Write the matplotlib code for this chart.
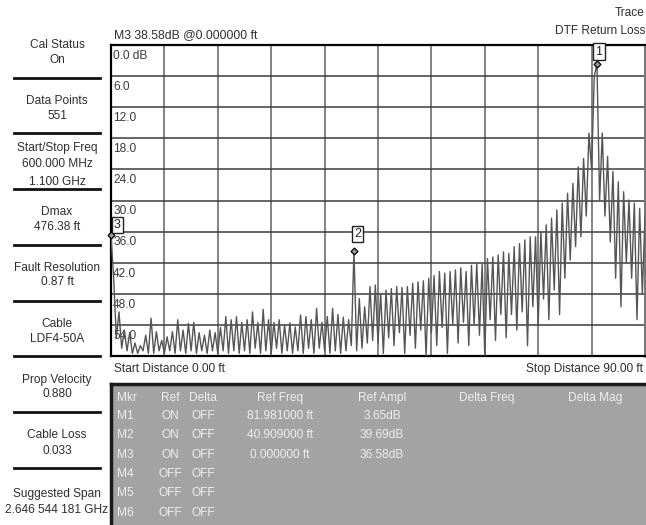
import matplotlib.pyplot as plt
from matplotlib.patches import Rectangle
from matplotlib.lines import Line2D
import numpy as np

plt.rcParams['font.family'] = ['Liberation Sans', 'DejaVu Sans']

# DTF return loss trace (dB), one value every 0.45 ft from 0 to 90 ft
return_loss = [
    36.6, 45.0, 56.5, 51.5, 58.5, 55.0, 59.0, 55.5, 59.5, 57.5,
    59.5, 58.0, 59.0, 56.0, 59.5, 52.7, 59.5, 55.3, 59.0, 57.0,
    59.5, 56.3, 59.0, 55.3, 59.5, 53.0, 59.0, 55.0, 59.5, 53.7,
    59.0, 53.5, 59.5, 55.5, 59.0, 56.0, 59.5, 55.0, 59.0, 55.5,
    59.5, 54.5, 59.0, 52.4, 59.5, 53.0, 59.0, 52.4, 59.5, 53.5,
    59.0, 53.0, 59.5, 51.5, 58.5, 53.5, 59.5, 51.0, 59.0, 53.0,
    59.5, 53.5, 58.5, 53.0, 59.5, 54.0, 59.0, 53.6, 59.5, 54.4,
    59.0, 52.1, 59.5, 52.4, 58.5, 53.0, 59.5, 50.8, 58.5, 53.5,
    59.0, 52.4, 59.5, 50.8, 59.0, 52.0, 59.5, 52.5, 59.0, 53.0,
    58.0, 39.7, 59.0, 48.9, 58.5, 50.5, 57.5, 46.6, 57.0, 46.3,
    57.5, 47.9, 59.5, 47.3, 56.5, 47.0, 58.0, 46.6, 55.5, 46.8,
    59.5, 46.6, 56.0, 46.0, 58.5, 45.7, 55.0, 45.5, 60.0, 45.0,
    55.5, 44.5, 58.0, 43.7, 54.5, 44.0, 59.5, 43.7, 54.0, 43.4,
    57.5, 43.0, 53.5, 43.7, 58.0, 42.5, 54.0, 42.1, 56.0, 42.3,
    60.0, 41.2, 53.0, 40.9, 57.0, 40.5, 52.0, 39.9, 56.5, 40.2,
    52.0, 38.9, 55.0, 38.3, 51.5, 37.6, 58.0, 37.0, 50.5, 37.0,
    54.0, 36.0, 49.0, 34.7, 53.0, 33.4, 47.3, 31.8, 52.0, 30.5,
    45.0, 28.6, 41.5, 26.7, 38.9, 23.5, 37.0, 21.9, 33.0, 17.0,
    24.1, 6.0, 3.65, 30.0, 17.0, 33.0, 21.5, 38.0, 24.4, 45.0,
    26.4, 50.5, 28.3, 42.0, 29.9, 45.0, 30.5, 53.0, 31.5, 48.0,
    33.1,
]
distance = np.linspace(0, 90, len(return_loss))

# markers
marker_names = ['1', '2', '3']
marker_dist = [81.981, 40.909, 0.0]
marker_ampl = [3.65, 39.69, 36.58]
marker_offsets = [(1.6, 12.4), (3.8, 16.7), (6.2, 9.6)]  # pixels

db_ticks = [0, 6, 12, 18, 24, 30, 36, 42, 48, 54, 60]
db_labels = ['0.0 dB', '6.0', '12.0', '18.0', '24.0', '30.0', '36.0',
             '42.0', '48.0', '54.0']
dist_ticks = [0, 9, 18, 27, 36, 45, 54, 63, 72, 81, 90]

# left panel: (text, y pixel)
side_text = [
    ("Cal Status", 45), ("On", 60),
    ("Data Points", 101), ("551", 116),
    ("Start/Stop Freq", 148), ("600.000 MHz", 164), ("1.100 GHz", 182),
    ("Dmax", 212), ("476.38 ft", 227),
    ("Fault Resolution", 268), ("0.87 ft", 282),
    ("Cable", 324), ("LDF4-50A", 339),
    ("Prop Velocity", 380), ("0.880", 394),
    ("Cable Loss", 435), ("0.033", 451),
    ("Suggested Span", 494), ("2.646 544 181 GHz", 510),
]
side_separators = [78, 133, 189, 245, 301, 356, 412, 468]

# marker table
table_header = ['Mkr', 'Ref', 'Delta', 'Ref Freq', 'Ref Ampl', 'Delta Freq', 'Delta Mag']
table_rows = [
    ['M1', 'ON', 'OFF', '81.981000 ft', '3.65dB', '', ''],
    ['M2', 'ON', 'OFF', '40.909000 ft', '39.69dB', '', ''],
    ['M3', 'ON', 'OFF', '0.000000 ft', '36.58dB', '', ''],
    ['M4', 'OFF', 'OFF', '', '', '', ''],
    ['M5', 'OFF', 'OFF', '', '', '', ''],
    ['M6', 'OFF', 'OFF', '', '', '', ''],
]
col_x = [123, 170, 203, 280, 382, 487, 595]
row_y = [398, 416, 435, 455, 474, 493, 513]

W, H = 646, 525
fig = plt.figure(figsize=(W / 100, H / 100), dpi=100)


def fx(px):
    return px / W


def fy(py):
    return 1 - py / H


txt = '#2e2e2e'
fs = 8.6

# main plot
ax = fig.add_axes([fx(111), fy(356), 534 / W, 311 / H])
ax.plot(distance, return_loss, color='#555555', lw=1.0, zorder=3)
ax.set_xlim(0, 90)
ax.set_ylim(60, 0)
ax.set_xticks(dist_ticks)
ax.set_yticks(db_ticks)
ax.tick_params(length=0, labelbottom=False, labelleft=False)
ax.xaxis.grid(True, color='#6e6e6e', lw=1.2)
ax.yaxis.grid(True, color='#3c3c3c', lw=1.1)
ax.set_axisbelow(True)
for side in ['left', 'top', 'bottom']:
    ax.spines[side].set_color('black')
    ax.spines[side].set_linewidth(1.6)
ax.spines['right'].set_color('#777777')
ax.spines['right'].set_linewidth(2.0)

for val, lab in zip(db_ticks, db_labels):
    ax.text(0.004, val + 2.1, lab, transform=ax.get_yaxis_transform(),
            ha='left', va='center', fontsize=fs, color='#3a3a3a', zorder=2)

for name, d, a, (ox, oy) in zip(marker_names, marker_dist, marker_ampl, marker_offsets):
    ax.plot(d, a, marker='D', ms=3.5, mfc='#999999', mec='black', mew=0.9,
            zorder=5, clip_on=False)
    ax.annotate(name, xy=(d, a), xytext=(ox, oy), textcoords='offset pixels',
                ha='center', va='center', fontsize=9, color='#222222', zorder=6,
                bbox=dict(boxstyle='square,pad=0.18', fc='white', ec='#222222', lw=1.0))

# header texts
fig.text(fx(114), fy(35), "M3 38.58dB @0.000000 ft", ha='left', va='center',
         fontsize=8.8, color=txt)
fig.text(fx(645), fy(13), "Trace", ha='right', va='center', fontsize=fs, color=txt)
fig.text(fx(645), fy(31), "DTF Return Loss", ha='right', va='center', fontsize=fs, color=txt)
fig.text(fx(114), fy(369), "Start Distance 0.00 ft", ha='left', va='center',
         fontsize=fs, color=txt)
fig.text(fx(643), fy(369), "Stop Distance 90.00 ft", ha='right', va='center',
         fontsize=fs, color=txt)

# left panel
for s, py in side_text:
    fig.text(fx(57), fy(py), s, ha='center', va='center', fontsize=fs, color=txt, zorder=2)
for py in side_separators:
    fig.add_artist(Line2D([fx(14), fx(100)], [fy(py), fy(py)], color='#111111', lw=2.0))

# marker table box
fig.add_artist(Rectangle((fx(111), 0), 1 - fx(111), fy(384), facecolor='#a3a3a3',
                         edgecolor='none', zorder=5))
fig.add_artist(Line2D([fx(111), fx(111)], [0, fy(384)], color='#1a1a1a', lw=2.5, zorder=6))
fig.add_artist(Line2D([fx(111), 1], [fy(384), fy(384)], color='#1a1a1a', lw=2.5, zorder=6))

tc = '#eeeeee'
for j, (h, cx) in enumerate(zip(table_header, col_x)):
    ha = 'left' if j == 0 else 'center'
    x0 = 117 if j == 0 else cx
    fig.text(fx(x0), fy(row_y[0]), h, ha=ha, va='center', fontsize=fs, color=tc, zorder=7)
for row, py in zip(table_rows, row_y[1:]):
    for j, (val, cx) in enumerate(zip(row, col_x)):
        if not val:
            continue
        ha = 'left' if j == 0 else 'center'
        x0 = 117 if j == 0 else cx
        fig.text(fx(x0), fy(py), val, ha=ha, va='center', fontsize=fs, color=tc, zorder=7)

fig.savefig('out.png', dpi=100)
